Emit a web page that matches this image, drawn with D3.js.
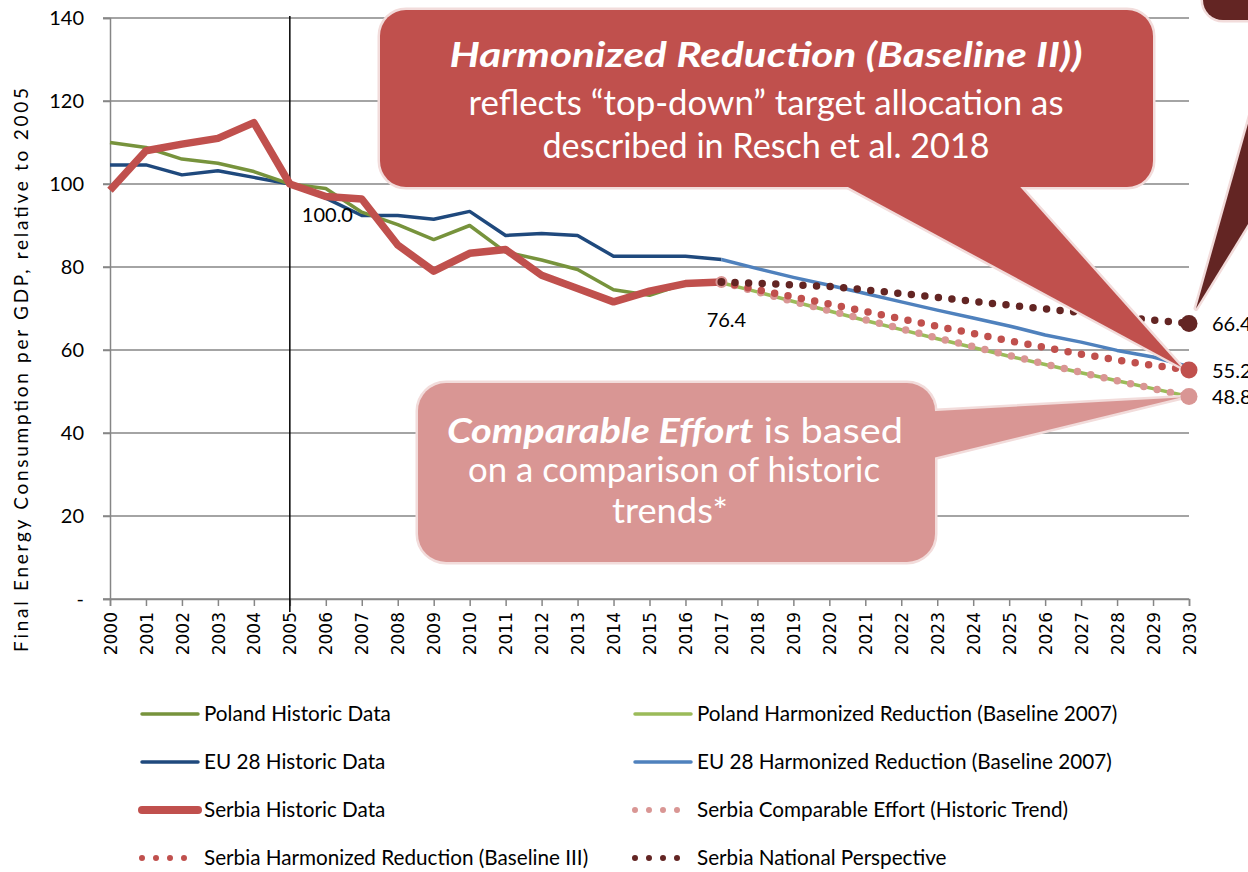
<!DOCTYPE html>
<html>
<head>
<meta charset="utf-8">
<script src="https://cdn.jsdelivr.net/npm/d3@7"></script>
<style>
  body { margin: 0; background: #fff; }
  svg { display: block; }
</style>
</head>
<body>
<div id="chart"></div>
<script>
// ---- data ----
var histYears = [2000, 2001, 2002, 2003, 2004, 2005, 2006, 2007, 2008, 2009, 2010, 2011, 2012, 2013, 2014, 2015, 2016, 2017];
var projYears = [2017, 2018, 2019, 2020, 2021, 2022, 2023, 2024, 2025, 2026, 2027, 2028, 2029, 2030];
var tickYears = [2000, 2001, 2002, 2003, 2004, 2005, 2006, 2007, 2008, 2009, 2010, 2011, 2012, 2013, 2014, 2015,
                 2016, 2017, 2018, 2019, 2020, 2021, 2022, 2023, 2024, 2025, 2026, 2027, 2028, 2029, 2030];
var yTicks = [0, 20, 40, 60, 80, 100, 120, 140];

var polandHist = [110, 108.8, 106, 105, 103, 100, 98.9, 93.2, 90.2, 86.6, 90.0, 83.6, 81.7, 79.4, 74.5, 73.2, 76.0, 76.2];
var euHist     = [104.6, 104.6, 102.2, 103.2, 101.6, 100, 96.6, 92.4, 92.4, 91.5, 93.4, 87.6, 88.1, 87.6, 82.6, 82.6, 82.6, 81.8];
var serbiaHist = [98.5, 108.0, 109.6, 111.0, 114.8, 100, 97.0, 96.4, 85.3, 79.0, 83.3, 84.2, 78.0, 74.8, 71.6, 74.2, 76.0, 76.4];

var polandHarm       = [76.2, 74.0, 71.7, 69.4, 67.1, 64.9, 62.7, 60.6, 58.5, 56.5, 54.5, 52.6, 50.7, 48.8];
var euHarm           = [81.8, 79.6, 77.5, 75.6, 73.6, 71.6, 69.6, 67.7, 65.8, 63.6, 61.9, 59.9, 58.3, 56.0];
var serbiaComparable = [76.4, 74.0, 71.7, 69.5, 67.3, 65.1, 62.9, 60.8, 58.7, 56.6, 54.6, 52.6, 50.7, 48.8];
var serbiaHarmIII    = [76.4, 74.5, 72.8, 71.1, 69.3, 67.5, 65.7, 64.0, 62.2, 60.6, 59.0, 57.6, 56.3, 55.2];
var serbiaNational   = [76.4, 76.1, 75.7, 75.3, 74.5, 73.6, 72.7, 71.7, 70.8, 69.9, 69.0, 68.1, 67.2, 66.4];

var width = 1248, height = 872;

var svg = d3.select("#chart").append("svg")
    .attr("width", width)
    .attr("height", height);

var x = d3.scaleLinear().domain([2000, 2030]).range([110, 1189]);
var y = d3.scaleLinear().domain([0, 140]).range([599, 18]);

var grid = "#868686";

// gridlines
svg.append("g").selectAll("line")
    .data(yTicks)
  .enter().append("line")
    .attr("x1", x(2000) - 7).attr("x2", x(2030))
    .attr("y1", function(d) { return y(d); })
    .attr("y2", function(d) { return y(d); })
    .style("stroke", grid)
    .style("stroke-width", 1.5);

// y axis
var yAxis = svg.append("g")
    .attr("transform", "translate(" + x(2000) + ",0)")
    .call(d3.axisLeft(y).tickValues(yTicks).tickSize(7).tickPadding(19)
      .tickFormat(function(d) { return d === 0 ? "-" : d; }));
yAxis.select(".domain").style("stroke", grid).style("stroke-width", 1.5);
yAxis.selectAll(".tick line").style("stroke", grid).style("stroke-width", 1.5);
yAxis.selectAll("text")
    .style("font-family", "Lato, sans-serif")
    .style("font-size", "20px")
    .style("fill", "#000");

// x axis
var xAxis = svg.append("g")
    .attr("transform", "translate(0," + y(0) + ")")
    .call(d3.axisBottom(x).tickValues(tickYears).tickSize(7).tickFormat(d3.format("d")));
xAxis.select(".domain").style("stroke", grid).style("stroke-width", 1.5);
xAxis.selectAll(".tick line").style("stroke", grid).style("stroke-width", 1.5);
xAxis.selectAll("text")
    .attr("transform", "rotate(-90)")
    .attr("x", -13)
    .attr("y", 0)
    .attr("dy", "0.36em")
    .style("text-anchor", "end")
    .style("font-family", "'DejaVu Sans', sans-serif")
    .style("font-size", "17px")
    .style("fill", "#000");

// y title
svg.append("text")
    .attr("transform", "translate(28,370) rotate(-90)")
    .attr("text-anchor", "middle")
    .attr("textLength", 564)
    .style("font-family", "Lato, sans-serif")
    .style("font-size", "19px")
    .text("Final Energy Consumption per GDP, relative to 2005");

// 2005 marker line
svg.append("line")
    .attr("x1", x(2005)).attr("x2", x(2005))
    .attr("y1", y(140) - 2).attr("y2", y(0) + 13)
    .style("stroke", "#000")
    .style("stroke-width", 1.5);

// ---- series ----
var lineGen = function(yrs) {
  return d3.line()
    .x(function(d, i) { return x(yrs[i]); })
    .y(function(d) { return y(d); });
};

var series = [
  { values: euHist, years: histYears, color: "#1F497D", w: 3.5 },
  { values: polandHist, years: histYears, color: "#77933C", w: 3.5 },
  { values: serbiaHist, years: histYears, color: "#C0504D", w: 7.5 },
  { values: euHarm, years: projYears, color: "#4F81BD", w: 3.5 },
  { values: polandHarm, years: projYears, color: "#9BBB59", w: 3.5 },
  { values: serbiaComparable, years: projYears, color: "#D99694", w: 7.5, dots: true },
  { values: serbiaHarmIII, years: projYears, color: "#C0504D", w: 7.5, dots: true },
  { values: serbiaNational, years: projYears, color: "#632523", w: 7.5, dots: true }
];

svg.append("g").selectAll("path")
    .data(series)
  .enter().append("path")
    .attr("d", function(s) { return lineGen(s.years)(s.values); })
    .style("fill", "none")
    .style("stroke", function(s) { return s.color; })
    .style("stroke-width", function(s) { return s.w; })
    .style("stroke-linejoin", "round")
    .style("stroke-linecap", function(s) { return s.dots ? "round" : "butt"; })
    .style("stroke-dasharray", function(s) { return s.dots ? "0,13.6" : null; });

// 2017 marker
svg.append("circle")
    .attr("cx", x(2017)).attr("cy", y(serbiaHist[serbiaHist.length - 1]))
    .attr("r", 5)
    .style("fill", "#632523")
    .style("stroke", "#D99694")
    .style("stroke-width", 2);

// ---- callouts ----
var calloutStroke = "#F2DCDB";
function callout(rect, pointer, fill) {
  var g = svg.append("g");
  var poly = pointer.map(function(p) { return p.join(","); }).join(" ");
  [true, false].forEach(function(withStroke) {
    g.append("polygon")
      .attr("points", poly)
      .style("fill", fill)
      .style("stroke", withStroke ? calloutStroke : "none")
      .style("stroke-width", 5)
      .style("stroke-linejoin", "round");
    g.append("rect")
      .attr("x", rect[0]).attr("y", rect[1])
      .attr("width", rect[2]).attr("height", rect[3])
      .attr("rx", rect[4])
      .style("fill", fill)
      .style("stroke", withStroke ? calloutStroke : "none")
      .style("stroke-width", 5);
  });
  return g;
}

// Harmonized reduction callout
var c1 = callout([380, 10, 773, 177, 26], [[835, 180], [1014, 180], [x(2030) - 8, y(55.2) - 3]], "#C0504D");
// national perspective callout (mostly off-canvas)
callout([1203, -60, 120, 80, 20], [[1280, 10], [1380, 10], [x(2030) + 7, y(66.4) - 15]], "#632523");
// comparable effort callout
var c3 = callout([418, 383, 517, 179, 28], [[900, 413], [900, 466], [x(2030) - 8, y(48.8) + 1]], "#D99694");

function ctext(g, cx, by, len, size, parts) {
  var t = g.append("text")
    .attr("x", cx).attr("y", by)
    .attr("text-anchor", "middle")
    .attr("textLength", len)
    .attr("lengthAdjust", "spacingAndGlyphs")
    .style("font-family", "Lato, sans-serif")
    .style("font-size", size + "px")
    .style("fill", "#fff");
  parts.forEach(function(p) {
    t.append("tspan")
      .style("font-weight", p.b ? "bold" : "normal")
      .style("font-style", p.b ? "italic" : "normal")
      .text(p.t);
  });
}
ctext(c1, 766, 67, 633, 34, [{ t: "Harmonized Reduction (Baseline II))", b: true }]);
ctext(c1, 766, 115, 595, 34, [{ t: "reflects \u201ctop-down\u201d target allocation as" }]);
ctext(c1, 766, 158, 447, 34, [{ t: "described in Resch et al. 2018" }]);
ctext(c3, 675, 443, 456, 34, [{ t: "Comparable Effort", b: true }, { t: " is based" }]);
ctext(c3, 674, 482, 412, 34, [{ t: "on a comparison of historic" }]);
ctext(c3, 670, 523, 116, 34, [{ t: "trends*" }]);

// ---- end points and labels ----
var endSeries = [
  { v: serbiaNational[serbiaNational.length - 1], color: "#632523" },
  { v: serbiaHarmIII[serbiaHarmIII.length - 1], color: "#C0504D" },
  { v: serbiaComparable[serbiaComparable.length - 1], color: "#D99694" }
];
svg.append("g").selectAll("circle")
    .data(endSeries)
  .enter().append("circle")
    .attr("cx", x(2030))
    .attr("cy", function(d) { return y(d.v); })
    .attr("r", 8.5)
    .style("fill", function(d) { return d.color; });

svg.append("g").selectAll("text")
    .data(endSeries)
  .enter().append("text")
    .attr("x", x(2030) + 23)
    .attr("y", function(d) { return y(d.v) + 8; })
    .style("font-family", "Lato, sans-serif")
    .style("font-size", "20px")
    .text(function(d) { return d.v.toFixed(1); });

svg.append("text")
    .attr("x", x(2005) + 12).attr("y", y(100) + 38)
    .style("font-family", "Lato, sans-serif")
    .style("font-size", "20px")
    .text(serbiaHist[5].toFixed(1));

svg.append("text")
    .attr("x", x(2017) + 5).attr("y", y(serbiaHist[17]) + 45)
    .attr("text-anchor", "middle")
    .style("font-family", "Lato, sans-serif")
    .style("font-size", "20px")
    .text(serbiaHist[17].toFixed(1));

// ---- legend ----
var legendLeft = [
  { name: "Poland Historic Data", color: "#77933C", w: 3.5 },
  { name: "EU 28 Historic Data", color: "#1F497D", w: 3.5 },
  { name: "Serbia Historic Data", color: "#C0504D", w: 8 },
  { name: "Serbia Harmonized Reduction (Baseline III)", color: "#C0504D", w: 6, dots: true }
];
var legendRight = [
  { name: "Poland Harmonized Reduction (Baseline 2007)", color: "#9BBB59", w: 3.5 },
  { name: "EU 28 Harmonized Reduction (Baseline 2007)", color: "#4F81BD", w: 3.5 },
  { name: "Serbia Comparable Effort (Historic Trend)", color: "#D99694", w: 6, dots: true },
  { name: "Serbia National Perspective", color: "#632523", w: 6, dots: true }
];

function legendCol(items, x0) {
  var g = svg.append("g").selectAll("g")
      .data(items)
    .enter().append("g")
      .attr("transform", function(d, i) { return "translate(" + x0 + "," + (714 + i * 48) + ")"; });
  g.append("line")
    .attr("x1", 2).attr("x2", 58)
    .style("stroke", function(d) { return d.color; })
    .style("stroke-width", function(d) { return d.w; })
    .style("stroke-linecap", "round")
    .style("stroke-dasharray", function(d) { return d.dots ? "0,14" : null; });
  g.append("text")
    .attr("x", 64)
    .attr("dy", "0.36em")
    .style("font-family", "Lato, sans-serif")
    .style("font-size", "20.7px")
    .text(function(d) { return d.name; });
}
legendCol(legendLeft, 140);
legendCol(legendRight, 633);
</script>
</body>
</html>
